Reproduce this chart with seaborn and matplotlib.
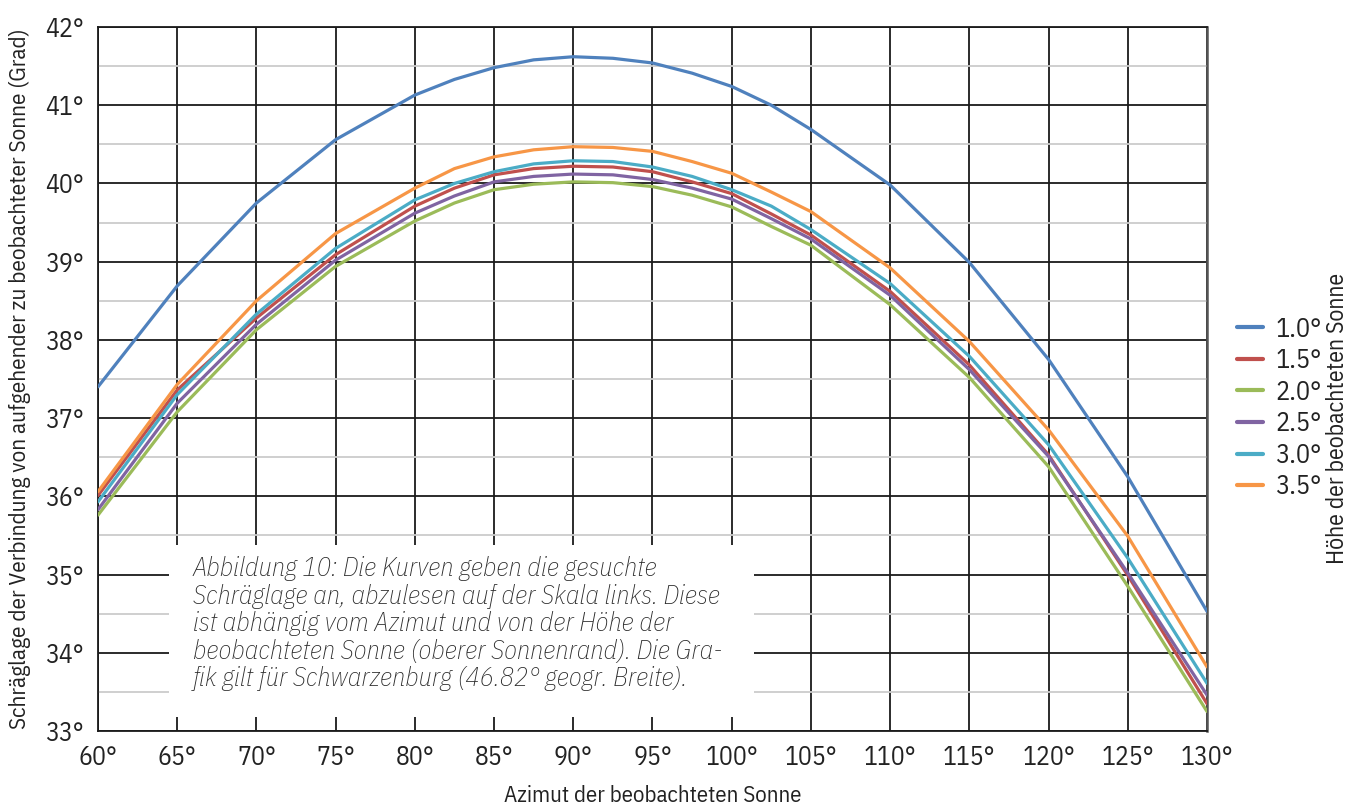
import matplotlib
matplotlib.use("Agg")
import matplotlib.pyplot as plt
import seaborn as sns
import pandas as pd
import numpy as np
from matplotlib.patches import Rectangle
from matplotlib.lines import Line2D

azimut = [60, 65, 70, 75, 80, 82.5, 85, 87.5, 90, 92.5, 95, 97.5, 100, 102.5, 105, 110, 115, 120, 125, 130]
h10 = [37.40, 38.69, 39.75, 40.56, 41.13, 41.33, 41.48, 41.58, 41.62, 41.60, 41.54, 41.41, 41.24, 41.00, 40.69, 39.98, 38.99, 37.75, 36.25, 34.53]
h15 = [36.01, 37.36, 38.28, 39.09, 39.71, 39.94, 40.11, 40.19, 40.22, 40.21, 40.15, 40.02, 39.87, 39.61, 39.34, 38.62, 37.68, 36.53, 34.99, 33.35]
h20 = [35.76, 37.08, 38.13, 38.94, 39.52, 39.75, 39.92, 39.99, 40.02, 40.01, 39.96, 39.85, 39.70, 39.45, 39.21, 38.45, 37.52, 36.38, 34.85, 33.25]
h25 = [35.83, 37.19, 38.20, 39.02, 39.62, 39.84, 40.02, 40.09, 40.12, 40.11, 40.05, 39.94, 39.80, 39.55, 39.29, 38.57, 37.62, 36.51, 35.02, 33.46]
h30 = [35.93, 37.30, 38.33, 39.17, 39.79, 40.00, 40.15, 40.25, 40.29, 40.28, 40.21, 40.09, 39.92, 39.71, 39.41, 38.72, 37.79, 36.66, 35.21, 33.61]
h35 = [36.06, 37.43, 38.50, 39.36, 39.94, 40.19, 40.34, 40.43, 40.47, 40.46, 40.41, 40.28, 40.13, 39.89, 39.64, 38.92, 37.98, 36.85, 35.49, 33.82]
series_labels = ["1.0°", "1.5°", "2.0°", "2.5°", "3.0°", "3.5°"]
colors = ["#4F81BD", "#C0504D", "#9BBB59", "#8064A2", "#4BACC6", "#F79646"]
x_ticks = [60, 65, 70, 75, 80, 85, 90, 95, 100, 105, 110, 115, 120, 125, 130]
y_ticks = [33, 34, 35, 36, 37, 38, 39, 40, 41, 42]

caption = ("Abbildung 10: Die Kurven geben die gesuchte\n"
           "Schräglage an, abzulesen auf der Skala links. Diese\n"
           "ist abhängig vom Azimut und von der Höhe der\n"
           "beobachteten Sonne (oberer Sonnenrand). Die Gra-\n"
           "fik gilt für Schwarzenburg (46.82° geogr. Breite).")

rows = []
for lab, vals in zip(series_labels, [h10, h15, h20, h25, h30, h35]):
    for a, v in zip(azimut, vals):
        rows.append({"Azimut": a, "Wert": v, "Höhe": lab})
df = pd.DataFrame(rows)

sns.set_theme(style="white")
plt.rcParams['font.family'] = ['IBM Plex Sans Condensed', 'DejaVu Sans']

fig = plt.figure(figsize=(13.6, 8.05), dpi=100)
ax = fig.add_axes([98/1360, 1-731/805, 1109/1360, 704/805])

sns.lineplot(data=df, x="Azimut", y="Wert", hue="Höhe", hue_order=series_labels,
             palette=colors, linewidth=2.3, ax=ax, legend=False, zorder=3)

ax.set_xlim(60, 130)
ax.set_ylim(33, 42)
ax.set_xticks(x_ticks)
ax.set_xticklabels([f"{t}°" for t in x_ticks])
ax.set_yticks(y_ticks)
ax.set_yticklabels([f"{t}°" for t in y_ticks])
ax.set_yticks(np.arange(33.5, 42, 1.0), minor=True)

ax.set_axisbelow(True)
ax.grid(which="major", axis="both", color="#1a1a1a", linewidth=1.3)
ax.grid(which="minor", axis="y", color="#cccccc", linewidth=1.3)
ax.tick_params(axis="both", which="major", length=5, width=1.3, color="#1a1a1a",
               labelsize=18.5, labelcolor="#222222", pad=5)
ax.tick_params(axis="y", which="minor", length=0)
ax.tick_params(axis="x", which="major", length=4, pad=6)
for s in ["left", "bottom", "top"]:
    ax.spines[s].set_color("#1a1a1a")
    ax.spines[s].set_linewidth(1.3)
ax.spines["right"].set_color("#555555")
ax.spines["right"].set_linewidth(1.8)

ax.set_xlabel("Azimut der beobachteten Sonne", fontsize=16.5, color="#222222", labelpad=11)
ax.set_ylabel("Schräglage der Verbindung von aufgehender zu beobachteter Sonne (Grad)",
              fontsize=16.7, color="#222222", labelpad=10)

# caption box
ax.add_patch(Rectangle((71/1109, 14/704), 585/1109, 172/704, transform=ax.transAxes,
                       facecolor="white", edgecolor="none", zorder=1))
ax.text(95/1109, (731-556)/704, caption, transform=ax.transAxes, fontsize=19,
        fontstyle="italic", fontweight="light", color="#2a2a2a", va="top", ha="left",
        linespacing=1.13, zorder=4)

handles = [Line2D([0], [0], color=c, lw=3) for c in colors]
leg = fig.legend(handles, series_labels, loc="center left",
                 bbox_to_anchor=(1237/1360, 1-408/805), frameon=False,
                 fontsize=19, handlelength=1.0, handletextpad=0.45, labelspacing=0.25,
                 borderpad=0, borderaxespad=0)
for t in leg.get_texts():
    t.set_color("#222222")

fig.text(1338/1360, 1-418/805, "Höhe der beobachteten Sonne", rotation=90,
         ha="center", va="center", fontsize=17, color="#222222")

fig.savefig("out.png", dpi=100)
